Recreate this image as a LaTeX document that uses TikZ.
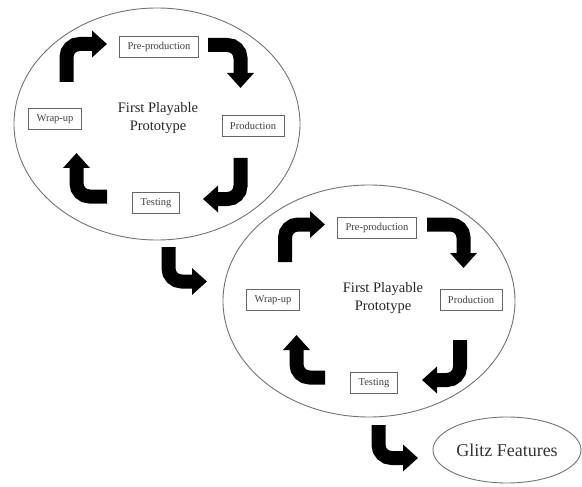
\documentclass[tikz,border=0pt]{standalone}
\usepackage{fontspec}
\setmainfont{Liberation Serif}
\usetikzlibrary{arrows.meta,shapes.geometric}
\begin{document}
\begin{tikzpicture}[x=1pt,y=-1pt,
  ring/.style={draw=black!55, line width=0.9pt, ellipse, inner sep=0pt},
  stagebox/.style={draw=black!60, line width=0.8pt, inner xsep=8pt, minimum height=21pt, font=\fontsize{10.5}{12}\selectfont, text=black!75},
  title/.style={align=center, font=\fontsize{14.5}{18}\selectfont, text=black!85},
  bigarrow/.style={line width=14pt, rounded corners=13pt, -{Triangle[width=26pt,length=15pt]}, black}
]
\useasboundingbox (0,0) rectangle (582,487);

% first cycle
\node[ring, minimum width=286pt, minimum height=232pt] (e1) at (157,124) {};
\node[title] (t1) at (158,118) {First Playable\\Prototype};
\node[stagebox] (pre1) at (159,47) {Pre-production};
\node[stagebox] (wrap1) at (55,119) {Wrap-up};
\node[stagebox] (prod1) at (253,126) {Production};
\node[stagebox] (test1) at (156,203) {Testing};

\coordinate (a1s) at (66.5,82);  \coordinate (a1e) at (107,44);
\coordinate (a2s) at (208,45);   \coordinate (a2e) at (240.5,88);
\coordinate (a3s) at (240.5,158);\coordinate (a3e) at (203,199);
\coordinate (a4s) at (107,196.5);\coordinate (a4e) at (76.5,153);
\draw[bigarrow] (a1s) |- (a1e);
\draw[bigarrow] (a2s) -| (a2e);
\draw[bigarrow] (a3s) |- (a3e);
\draw[bigarrow] (a4s) -| (a4e);

% second cycle
\node[ring, minimum width=292pt, minimum height=232pt] (e2) at (369,301) {};
\node[title] (t2) at (383,298) {First Playable\\Prototype};
\node[stagebox] (pre2) at (377,228) {Pre-production};
\node[stagebox] (wrap2) at (273,300) {Wrap-up};
\node[stagebox] (prod2) at (471,300) {Production};
\node[stagebox] (test2) at (374,383) {Testing};

\coordinate (b1s) at (285,262);  \coordinate (b1e) at (325,224.5);
\coordinate (b2s) at (427,224.5);\coordinate (b2e) at (463.5,268);
\coordinate (b3s) at (460,340);  \coordinate (b3e) at (422,380);
\coordinate (b4s) at (325,377.5);\coordinate (b4e) at (296.5,335);
\draw[bigarrow] (b1s) |- (b1e);
\draw[bigarrow] (b2s) -| (b2e);
\draw[bigarrow] (b3s) |- (b3e);
\draw[bigarrow] (b4s) -| (b4e);

% glitz
\node[ring, minimum width=148pt, minimum height=66pt, font=\fontsize{18}{20}\selectfont, text=black!80] (glitz) at (507,450) {Glitz Features};

% links
\coordinate (c1s) at (168.5,247); \coordinate (c1e) at (207,281.5);
\coordinate (c2s) at (378.5,425); \coordinate (c2e) at (418,458);
\draw[bigarrow] (c1s) |- (c1e);
\draw[bigarrow] (c2s) |- (c2e);
\end{tikzpicture}
\end{document}
